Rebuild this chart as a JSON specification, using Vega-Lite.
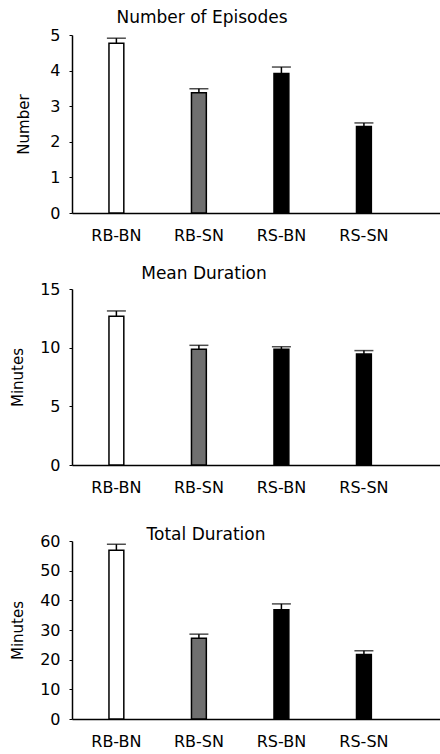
{
  "$schema": "https://vega.github.io/schema/vega-lite/v6.json",
  "padding": {"top": 9, "left": 10, "right": 0, "bottom": 0},
  "background": "white",
  "bounds": "flush",
  "spacing": 76,
  "config": {
    "view": {"stroke": null},
    "font": "DejaVu Sans",
    "axis": {"grid": false, "domainColor": "black", "domainWidth": 1.5, "tickColor": "black", "labelColor": "black", "titleColor": "black", "labelFontSize": 16, "titleFontSize": 15, "titleFontWeight": "normal", "labelFont": "DejaVu Sans", "titleFont": "DejaVu Sans", "labelOverlap": false},
    "title": {"fontSize": 17, "fontWeight": "normal", "color": "black", "font": "DejaVu Sans", "frame": "group", "anchor": "middle"}
  },
  "data": {"values": [
    {"panel": "Number of Episodes", "cat": "RB-BN", "value": 4.77, "err": 4.91},
    {"panel": "Number of Episodes", "cat": "RB-SN", "value": 3.38, "err": 3.49},
    {"panel": "Number of Episodes", "cat": "RS-BN", "value": 3.92, "err": 4.10},
    {"panel": "Number of Episodes", "cat": "RS-SN", "value": 2.43, "err": 2.53},
    {"panel": "Mean Duration", "cat": "RB-BN", "value": 12.68, "err": 13.13},
    {"panel": "Mean Duration", "cat": "RB-SN", "value": 9.86, "err": 10.2},
    {"panel": "Mean Duration", "cat": "RS-BN", "value": 9.86, "err": 10.08},
    {"panel": "Mean Duration", "cat": "RS-SN", "value": 9.46, "err": 9.75},
    {"panel": "Total Duration", "cat": "RB-BN", "value": 56.9, "err": 58.9},
    {"panel": "Total Duration", "cat": "RB-SN", "value": 27.2, "err": 28.6},
    {"panel": "Total Duration", "cat": "RS-BN", "value": 36.8, "err": 38.8},
    {"panel": "Total Duration", "cat": "RS-SN", "value": 21.7, "err": 23.0}
  ]},
  "vconcat": [
    {
      "title": {"text": "Number of Episodes", "offset": 0, "dx": -54},
      "width": 368, "height": 178,
      "transform": [{"filter": "datum.panel === 'Number of Episodes'"}],
      "encoding": {
        "x": {"field": "cat", "type": "nominal", "sort": null, "title": null,
              "scale": {"paddingInner": 0.82, "paddingOuter": 0.64, "align": 0.35},
              "axis": {"labelAngle": 0, "ticks": false, "labelPadding": 14}},
        "y": {"field": "value", "type": "quantitative", "title": "Number",
              "scale": {"domain": [0, 5], "nice": false},
              "axis": {"values": [0, 1, 2, 3, 4, 5], "labelOverlap": false, "tickSize": 3, "labelPadding": 9, "titlePadding": 18}}
      },
      "layer": [
        {"mark": {"type": "rule", "stroke": "black", "strokeWidth": 1.5},
         "encoding": {"y2": {"field": "err"}}},
        {"mark": {"type": "tick", "color": "black", "size": 19, "thickness": 1.5},
         "encoding": {"y": {"field": "err", "type": "quantitative", "title": "Number",
              "scale": {"domain": [0, 5], "nice": false},
              "axis": {"values": [0, 1, 2, 3, 4, 5], "labelOverlap": false, "tickSize": 3, "labelPadding": 9, "titlePadding": 18}}}},
        {"mark": {"type": "bar", "stroke": "black", "strokeWidth": 1.5},
         "encoding": {
           "fill": {"field": "cat", "type": "nominal", "legend": null,
                    "scale": {"domain": ["RB-BN", "RB-SN", "RS-BN", "RS-SN"], "range": ["white", "#707070", "black", "black"]}}
         }}
      ]
    },
    {
      "title": {"text": "Mean Duration", "offset": -2, "dx": -52},
      "width": 368, "height": 176,
      "transform": [{"filter": "datum.panel === 'Mean Duration'"}],
      "encoding": {
        "x": {"field": "cat", "type": "nominal", "sort": null, "title": null,
              "scale": {"paddingInner": 0.82, "paddingOuter": 0.64, "align": 0.35},
              "axis": {"labelAngle": 0, "ticks": false, "labelPadding": 14}},
        "y": {"field": "value", "type": "quantitative", "title": "Minutes",
              "scale": {"domain": [0, 15], "nice": false},
              "axis": {"values": [0, 5, 10, 15], "labelOverlap": false, "tickSize": 3, "labelPadding": 9, "titlePadding": 14}}
      },
      "layer": [
        {"mark": {"type": "rule", "stroke": "black", "strokeWidth": 1.5},
         "encoding": {"y2": {"field": "err"}}},
        {"mark": {"type": "tick", "color": "black", "size": 19, "thickness": 1.5},
         "encoding": {"y": {"field": "err", "type": "quantitative", "title": "Minutes",
              "scale": {"domain": [0, 15], "nice": false},
              "axis": {"values": [0, 5, 10, 15], "labelOverlap": false, "tickSize": 3, "labelPadding": 9, "titlePadding": 14}}}},
        {"mark": {"type": "bar", "stroke": "black", "strokeWidth": 1.5},
         "encoding": {
           "fill": {"field": "cat", "type": "nominal", "legend": null,
                    "scale": {"domain": ["RB-BN", "RB-SN", "RS-BN", "RS-SN"], "range": ["white", "#707070", "black", "black"]}}
         }}
      ]
    },
    {
      "title": {"text": "Total Duration", "offset": -11, "dx": -50},
      "width": 368, "height": 178,
      "transform": [{"filter": "datum.panel === 'Total Duration'"}],
      "encoding": {
        "x": {"field": "cat", "type": "nominal", "sort": null, "title": null,
              "scale": {"paddingInner": 0.82, "paddingOuter": 0.64, "align": 0.35},
              "axis": {"labelAngle": 0, "ticks": false, "labelPadding": 14}},
        "y": {"field": "value", "type": "quantitative", "title": "Minutes",
              "scale": {"domain": [0, 60], "nice": false},
              "axis": {"values": [0, 10, 20, 30, 40, 50, 60], "labelOverlap": false, "tickSize": 3, "labelPadding": 9, "titlePadding": 14}}
      },
      "layer": [
        {"mark": {"type": "rule", "stroke": "black", "strokeWidth": 1.5},
         "encoding": {"y2": {"field": "err"}}},
        {"mark": {"type": "tick", "color": "black", "size": 19, "thickness": 1.5},
         "encoding": {"y": {"field": "err", "type": "quantitative", "title": "Minutes",
              "scale": {"domain": [0, 60], "nice": false},
              "axis": {"values": [0, 10, 20, 30, 40, 50, 60], "labelOverlap": false, "tickSize": 3, "labelPadding": 9, "titlePadding": 14}}}},
        {"mark": {"type": "bar", "stroke": "black", "strokeWidth": 1.5},
         "encoding": {
           "fill": {"field": "cat", "type": "nominal", "legend": null,
                    "scale": {"domain": ["RB-BN", "RB-SN", "RS-BN", "RS-SN"], "range": ["white", "#707070", "black", "black"]}}
         }}
      ]
    }
  ]
}
